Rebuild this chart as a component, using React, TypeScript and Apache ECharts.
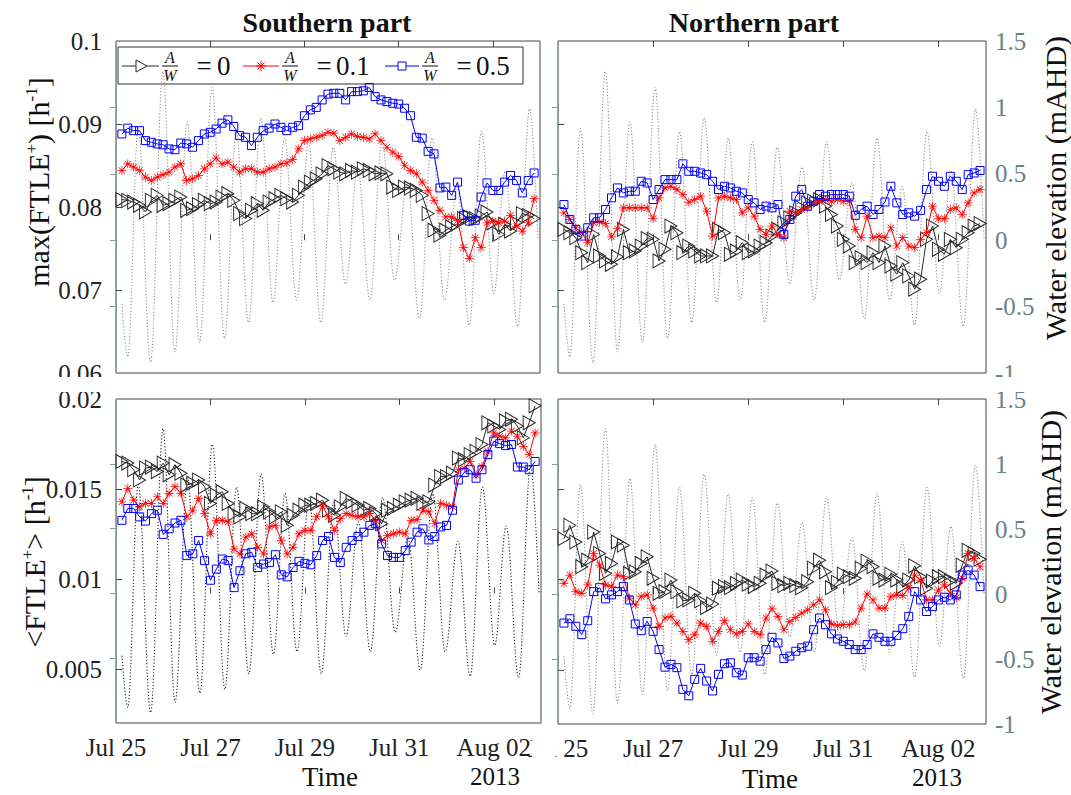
import React, { useEffect, useRef } from 'react';
import * as echarts from 'echarts';

const FONT = 'Liberation Serif';

// sample times, hours after 25 Jul 2013 00:00
const hours = [3, 6, 9, 12, 15, 18, 21, 24, 27, 30, 33, 36, 39, 42, 45, 48, 51, 54, 57, 60, 63, 66, 69, 72, 75, 78, 81, 84, 87, 90, 93, 96, 99, 102, 105, 108, 111, 114, 117, 120, 123, 126, 129, 132, 135, 138, 141, 144, 147, 150, 153, 156, 159, 162, 165, 168, 171, 174, 177, 180, 183, 186, 189, 192, 195, 198, 201, 204, 207, 210, 213];

const xTickHours = [0, 48, 96, 144, 192];
const xTickLabels = ['Jul 25', 'Jul 27', 'Jul 29', 'Jul 31', 'Aug 02'];
const maxFtleLabels = [0.06, 0.07, 0.08, 0.09, 0.1];
const meanFtleLabels = [0.005, 0.01, 0.015, 0.02];
const elevationLabels = [-1, -0.5, 0, 0.5, 1, 1.5];

// water elevation (mAHD): turning points of the tide
const tideHours = [3, 6.0, 11.3, 17.6, 23.9, 30.0, 36.3, 42.6, 49.0, 55.3, 61.3, 67.5, 73.8, 80.0, 85.9, 92.0, 98.1, 104.3, 110.7, 116.9, 123.2, 129.3, 135.5, 141.9, 148.4, 154.6, 161.0, 167.3, 173.8, 180.0, 186.2, 192.5, 198.3, 204.6, 210.7, 215];
const tideLevels = [-0.48, -0.88, 0.84, -0.92, 1.27, -0.84, 0.89, -0.77, 1.15, -0.74, 0.82, -0.62, 0.92, -0.47, 0.77, -0.45, 0.74, -0.62, 0.7, -0.33, 0.55, -0.45, 0.74, -0.3, 0.43, -0.59, 0.77, -0.45, 0.4, -0.64, 0.82, -0.4, 0.52, -0.65, 0.99, 0.0];

// max(FTLE+) southern part
const southMaxAW0 = [0.0809, 0.0808, 0.0806, 0.0802, 0.0794, 0.0808, 0.0814, 0.0802, 0.0804, 0.0808,
  0.0812, 0.0796, 0.0798, 0.0803, 0.0808, 0.0804, 0.0806, 0.0812, 0.0816, 0.0808,
  0.0792, 0.0786, 0.0796, 0.0804, 0.0796, 0.0806, 0.081, 0.0814, 0.081, 0.0806,
  0.0814, 0.0824, 0.083, 0.0834, 0.084, 0.085, 0.0846, 0.0842, 0.084, 0.0844,
  0.0842, 0.0846, 0.0844, 0.084, 0.0841, 0.084, 0.0824, 0.082, 0.0824, 0.0823,
  0.082, 0.0814, 0.0792, 0.0772, 0.0766, 0.0772, 0.0776, 0.078, 0.0786, 0.0788,
  0.0786, 0.0789, 0.0794, 0.0781, 0.0767, 0.0779, 0.0771, 0.0781, 0.0792, 0.079, 0.0786];
const southMaxAW01 = [0.0844, 0.0852, 0.0848, 0.0844, 0.0836, 0.0832, 0.0836, 0.0839, 0.0842, 0.0848,
  0.0852, 0.0832, 0.0834, 0.0838, 0.0846, 0.0852, 0.0859, 0.0852, 0.0854, 0.0848,
  0.0842, 0.0846, 0.0846, 0.0842, 0.0842, 0.0846, 0.0848, 0.0852, 0.0853, 0.0857,
  0.087, 0.088, 0.0882, 0.0884, 0.0886, 0.089, 0.0889, 0.088, 0.0884, 0.0888,
  0.0885, 0.0884, 0.0882, 0.0888, 0.088, 0.0872, 0.0866, 0.0861, 0.085, 0.0844,
  0.084, 0.083, 0.082, 0.0808, 0.0796, 0.0788, 0.0788, 0.0784, 0.0751, 0.0738,
  0.0763, 0.0751, 0.0781, 0.0783, 0.0781, 0.0783, 0.079, 0.0777, 0.0771, 0.0781, 0.081];
const southMaxAW05 = [0.0888, 0.0895, 0.0892, 0.0892, 0.088, 0.0878, 0.0876, 0.0875, 0.087, 0.0869,
  0.0877, 0.0876, 0.0872, 0.088, 0.0888, 0.089, 0.0894, 0.0901, 0.0905, 0.0897,
  0.0886, 0.0884, 0.0874, 0.0884, 0.0892, 0.0895, 0.09, 0.0896, 0.0892, 0.0896,
  0.0898, 0.091, 0.0917, 0.092, 0.0929, 0.0936, 0.0937, 0.0937, 0.0929, 0.0939,
  0.0939, 0.094, 0.0944, 0.0933, 0.0929, 0.0927, 0.0925, 0.0924, 0.0919, 0.091,
  0.0884, 0.0883, 0.0867, 0.0864, 0.0823, 0.0824, 0.0814, 0.083, 0.079, 0.0783,
  0.0784, 0.0812, 0.0829, 0.082, 0.082, 0.083, 0.0838, 0.0832, 0.0817, 0.0832, 0.0841];

// max(FTLE+) northern part
const northMaxAW0 = [0.0773, 0.0769, 0.0763, 0.0745, 0.0733, 0.0767, 0.0741, 0.0735, 0.0731, 0.074,
  0.0773, 0.0745, 0.0747, 0.0753, 0.0762, 0.0761, 0.0735, 0.0749, 0.0777, 0.0769,
  0.0745, 0.0753, 0.0747, 0.0741, 0.0741, 0.0741, 0.0773, 0.0769, 0.0743, 0.0747,
  0.0757, 0.0745, 0.0747, 0.0753, 0.0757, 0.0765, 0.0773, 0.0781, 0.0787, 0.0793,
  0.0799, 0.0805, 0.0807, 0.0809, 0.0801, 0.0791, 0.0777, 0.0761, 0.0753, 0.0733,
  0.0739, 0.0733, 0.0745, 0.0733, 0.0753, 0.0729, 0.0719, 0.0733, 0.0717, 0.0701,
  0.0713, 0.0761, 0.0777, 0.0749, 0.0743, 0.0761, 0.0751, 0.0761, 0.0769, 0.0777, 0.078];
const northMaxAW01 = [0.0793, 0.0785, 0.0775, 0.0769, 0.0757, 0.0781, 0.0782, 0.078, 0.0764, 0.0774,
  0.0799, 0.0799, 0.0799, 0.0799, 0.0799, 0.0786, 0.0811, 0.0823, 0.0825, 0.0821,
  0.0815, 0.0806, 0.0809, 0.0813, 0.0795, 0.0765, 0.0811, 0.0813, 0.0811, 0.0809,
  0.0793, 0.0799, 0.0789, 0.0773, 0.0767, 0.0777, 0.0767, 0.0763, 0.0795, 0.0793,
  0.0797, 0.0799, 0.0805, 0.0807, 0.0809, 0.0807, 0.0809, 0.0807, 0.0807, 0.0773,
  0.0763, 0.0789, 0.0763, 0.0765, 0.0763, 0.0775, 0.0753, 0.0763, 0.0753, 0.0751,
  0.0761, 0.0769, 0.0801, 0.0786, 0.0786, 0.0797, 0.0799, 0.0791, 0.0805, 0.0817, 0.0821];
const northMaxAW05 = [0.0803, 0.0785, 0.0773, 0.0765, 0.0775, 0.0787, 0.0787, 0.0797, 0.0811, 0.0823,
  0.0817, 0.0819, 0.0819, 0.0831, 0.0829, 0.0809, 0.0821, 0.0833, 0.0833, 0.0833,
  0.0852, 0.0843, 0.0843, 0.0841, 0.0839, 0.0831, 0.0821, 0.0825, 0.0823, 0.0819,
  0.0817, 0.0809, 0.0805, 0.0797, 0.0801, 0.0799, 0.0803, 0.0767, 0.0785, 0.0813,
  0.0821, 0.0801, 0.0807, 0.0815, 0.0813, 0.0815, 0.0815, 0.0815, 0.0813, 0.079,
  0.0797, 0.0801, 0.0791, 0.0797, 0.0806, 0.0825, 0.0805, 0.0791, 0.0793, 0.0789,
  0.0796, 0.0821, 0.0837, 0.0831, 0.0825, 0.0837, 0.0831, 0.0821, 0.0839, 0.0841, 0.0844];

// <FTLE+> southern part
const southMeanAW0 = [0.01653, 0.01644, 0.01607, 0.0155, 0.01616, 0.01622, 0.01597, 0.01644, 0.01579, 0.01635,
  0.01588, 0.01522, 0.01532, 0.0155, 0.01513, 0.0142, 0.01466, 0.01485, 0.0142, 0.01363,
  0.01345, 0.01392, 0.01363, 0.01363, 0.01401, 0.01373, 0.01345, 0.01373, 0.01298, 0.01354,
  0.01382, 0.0141, 0.0141, 0.0142, 0.01438, 0.01382, 0.01354, 0.01401, 0.01448, 0.01429,
  0.0141, 0.01382, 0.01392, 0.01363, 0.01307, 0.01382, 0.01392, 0.0141, 0.01429, 0.01438,
  0.01448, 0.0142, 0.01429, 0.01522, 0.01569, 0.01569, 0.01588, 0.01672, 0.01663, 0.01691,
  0.01709, 0.01747, 0.01868, 0.0185, 0.01831, 0.01878, 0.01887, 0.0185, 0.01784, 0.01868, 0.01962];
const southMeanAW01 = [0.01429, 0.01504, 0.01438, 0.01401, 0.0142, 0.0142, 0.01457, 0.0142, 0.01476, 0.01513,
  0.01476, 0.01345, 0.01382, 0.01448, 0.01363, 0.01251, 0.01326, 0.01326, 0.01317, 0.01167,
  0.01139, 0.01233, 0.01251, 0.01176, 0.01139, 0.01289, 0.01298, 0.01214, 0.01139, 0.01176,
  0.01251, 0.0127, 0.0127, 0.01345, 0.01405, 0.01345, 0.0127, 0.01335, 0.01363, 0.01354,
  0.01345, 0.01345, 0.01363, 0.01326, 0.01214, 0.01242, 0.01251, 0.01261, 0.01251, 0.01326,
  0.0133, 0.01382, 0.01373, 0.01307, 0.0142, 0.0141, 0.01401, 0.01607, 0.01616, 0.01653,
  0.01579, 0.01625, 0.01709, 0.01812, 0.01794, 0.01784, 0.01822, 0.01794, 0.01737, 0.01691, 0.01812];
const southMeanAW05 = [0.01326, 0.01392, 0.01392, 0.01345, 0.01322, 0.01363, 0.01382, 0.01248, 0.01279, 0.01311,
  0.01326, 0.0113, 0.0114, 0.01214, 0.01102, 0.00993, 0.01055, 0.01111, 0.01102, 0.00952,
  0.01046, 0.0114, 0.01148, 0.01064, 0.01083, 0.01092, 0.01135, 0.01023, 0.01012, 0.01064,
  0.01098, 0.01087, 0.01079, 0.0113, 0.01214, 0.01236, 0.0112, 0.01092, 0.01176, 0.01214,
  0.01236, 0.0126, 0.01298, 0.01307, 0.01195, 0.0113, 0.0112, 0.0112, 0.01158, 0.01205,
  0.0126, 0.01279, 0.01217, 0.01236, 0.01289, 0.01298, 0.01382, 0.0155, 0.01592, 0.01607,
  0.0156, 0.01607, 0.01691, 0.01766, 0.01752, 0.01741, 0.01747, 0.01622, 0.01622, 0.01607, 0.01653];

// <FTLE+> northern part
const northMeanAW0 = [0.01226, 0.013, 0.01208, 0.01071, 0.01107, 0.01263, 0.01144, 0.01034, 0.01089, 0.01208,
  0.0119, 0.01034, 0.01043, 0.01089, 0.01126, 0.01007, 0.00924, 0.00933, 0.00997, 0.00933,
  0.00882, 0.00887, 0.00924, 0.00882, 0.00845, 0.00864, 0.00952, 0.00961, 0.00955, 0.00979,
  0.00997, 0.00974, 0.00961, 0.00979, 0.01025, 0.01047, 0.00979, 0.00966, 0.00979, 0.00966,
  0.00955, 0.00988, 0.01062, 0.01107, 0.01043, 0.00955, 0.00985, 0.0103, 0.01016, 0.01007,
  0.01062, 0.01102, 0.01071, 0.01007, 0.00997, 0.01029, 0.00997, 0.00961, 0.00997, 0.01076,
  0.01016, 0.00952, 0.00992, 0.01016, 0.01016, 0.00992, 0.00979, 0.0108, 0.01162, 0.01144, 0.01113];
const northMeanAW01 = [0.00979, 0.01025, 0.00933, 0.00924, 0.0097, 0.01144, 0.0108, 0.0097, 0.00961, 0.01025,
  0.01016, 0.00897, 0.0086, 0.00906, 0.00915, 0.00842, 0.00741, 0.00787, 0.00796, 0.00759,
  0.00713, 0.00667, 0.00695, 0.00759, 0.00741, 0.00658, 0.00713, 0.00772, 0.00722, 0.00699,
  0.00713, 0.00754, 0.00713, 0.00695, 0.00787, 0.00838, 0.00796, 0.00722, 0.00768, 0.0079,
  0.00814, 0.00832, 0.0086, 0.00887, 0.00832, 0.00754, 0.00746, 0.0075, 0.0075, 0.00765,
  0.00842, 0.00919, 0.00887, 0.00842, 0.00842, 0.00906, 0.00915, 0.00911, 0.00952, 0.01025,
  0.00997, 0.00887, 0.00887, 0.00942, 0.0097, 0.00924, 0.009, 0.01007, 0.01144, 0.01117, 0.01071];
const northMeanAW05 = [0.00759, 0.00783, 0.00741, 0.00695, 0.00772, 0.00933, 0.00955, 0.00893, 0.00915, 0.00933,
  0.00961, 0.00887, 0.00754, 0.00717, 0.00768, 0.00713, 0.00612, 0.00515, 0.0053, 0.00512,
  0.00392, 0.00356, 0.00447, 0.00508, 0.00438, 0.00383, 0.00475, 0.00534, 0.00539, 0.00484,
  0.00471, 0.00567, 0.00567, 0.00548, 0.00612, 0.0068, 0.00649, 0.00563, 0.00576, 0.00603,
  0.00622, 0.00631, 0.00722, 0.00787, 0.0075, 0.00699, 0.00671, 0.00658, 0.0064, 0.00612,
  0.00612, 0.0064, 0.00699, 0.0068, 0.00658, 0.00658, 0.00691, 0.00728, 0.00796, 0.00933,
  0.00887, 0.00823, 0.00851, 0.00887, 0.00902, 0.00887, 0.00915, 0.01025, 0.01052, 0.01025, 0.00961];

const STAR = 'path://M0,9.2H20V10.8H0Z M9.2,0H10.8V20H9.2Z M3.47,2.33L17.67,16.53L16.53,17.67L2.33,3.47Z M16.53,2.33L17.67,3.47L3.47,17.67L2.33,16.53Z';
const BLACK = '#2a2a2a';
const RED = '#ff0000';
const BLUE = '#0000ff';
const RIGHT_COLOR = '#6a8282';
const BOX = '#444';

const fmt = (v: number) => String(parseFloat(Number(v).toFixed(4)));

const panels = [
  { grid: { left: 116, top: 41, width: 424, height: 332 }, series: [southMaxAW0, southMaxAW01, southMaxAW05], min: 0.06, max: 0.1, labels: maxFtleLabels, showLeft: true, showRight: false, showX: false, tide: '#8f8f8f' },
  { grid: { left: 558, top: 41, width: 428, height: 332 }, series: [northMaxAW0, northMaxAW01, northMaxAW05], min: 0.06, max: 0.1, labels: maxFtleLabels, showLeft: false, showRight: true, showX: false, tide: '#8f8f8f' },
  { grid: { left: 116, top: 399, width: 425, height: 324 }, series: [southMeanAW0, southMeanAW01, southMeanAW05], min: 0.002, max: 0.02, labels: meanFtleLabels, showLeft: true, showRight: false, showX: true, tide: '#222' },
  { grid: { left: 558, top: 399, width: 428, height: 325 }, series: [northMeanAW0, northMeanAW01, northMeanAW05], min: 0.002, max: 0.02, labels: meanFtleLabels, showLeft: false, showRight: true, showX: true, tide: '#8f8f8f' },
];

function buildOption() {
  const grid: any[] = [];
  const xAxis: any[] = [];
  const yAxis: any[] = [];
  const series: any[] = [];
  const innerTicks = xTickHours.filter((h) => h > 0);

  panels.forEach((p, g) => {
    grid.push({ ...p.grid, show: true, borderColor: BOX, borderWidth: 1, backgroundColor: 'transparent' });
    const xBase = {
      gridIndex: g, type: 'value', min: 0, max: 216,
      axisLine: { show: false }, splitLine: { show: false },
      axisTick: { inside: true, length: 6, customValues: innerTicks, lineStyle: { color: BOX } },
    };
    xAxis.push({
      ...xBase, position: 'bottom',
      axisLabel: {
        show: p.showX, customValues: xTickHours, margin: 12, fontSize: 25, fontFamily: FONT, color: '#222',
        formatter: (v: number) => { const i = xTickHours.indexOf(v); return i >= 0 ? xTickLabels[i] : ''; },
      },
    });
    xAxis.push({ ...xBase, position: 'top', axisLabel: { show: false } });
    const leftTicks = p.labels.filter((v) => v > p.min + 1e-9 && v < p.max - 1e-9);
    yAxis.push({
      gridIndex: g, type: 'value', position: 'left', min: p.min, max: p.max,
      axisLine: { show: false }, splitLine: { show: false },
      axisTick: { inside: true, length: 6, customValues: leftTicks, lineStyle: { color: BOX } },
      axisLabel: { show: p.showLeft, customValues: p.labels, margin: 14, fontSize: 25, fontFamily: FONT, color: '#222', formatter: fmt, showMinLabel: true, showMaxLabel: true },
    });
    yAxis.push({
      gridIndex: g, type: 'value', position: 'right', min: -1, max: 1.5, interval: 0.5,
      axisLine: { show: true, lineStyle: { color: '#8a9a9a', width: 1 } }, splitLine: { show: false },
      axisTick: { inside: true, length: 6, customValues: [-0.5, 0, 0.5, 1], lineStyle: { color: '#8a9a9a' } },
      axisLabel: { show: p.showRight, customValues: elevationLabels, margin: 9, fontSize: 25, fontFamily: FONT, color: RIGHT_COLOR, formatter: fmt, showMinLabel: true, showMaxLabel: true },
    });

    series.push({
      type: 'line', xAxisIndex: 2 * g, yAxisIndex: 2 * g + 1, silent: true,
      data: tideHours.map((h, i) => [h, tideLevels[i]]),
      smooth: 0.36, smoothMonotone: 'x', showSymbol: false, z: 1,
      lineStyle: { color: p.tide, width: 1.1, type: [1.2, 2] },
    });
    const [a0, a01, a05] = p.series;
    series.push({
      type: 'line', xAxisIndex: 2 * g, yAxisIndex: 2 * g, z: 3,
      data: hours.map((h, i) => [h, a0[i]]),
      symbol: 'triangle', symbolRotate: -90, symbolSize: [14, 12], showSymbol: true,
      itemStyle: { color: 'rgba(0,0,0,0)', borderColor: BLACK, borderWidth: 1 },
      lineStyle: { color: BLACK, width: 1 },
    });
    series.push({
      type: 'line', xAxisIndex: 2 * g, yAxisIndex: 2 * g, z: 4,
      data: hours.map((h, i) => [h, a01[i]]),
      symbol: STAR, symbolSize: 9, showSymbol: true,
      itemStyle: { color: RED },
      lineStyle: { color: RED, width: 1 },
    });
    series.push({
      type: 'line', xAxisIndex: 2 * g, yAxisIndex: 2 * g, z: 5,
      data: hours.map((h, i) => [h, a05[i]]),
      symbol: 'rect', symbolSize: 8, showSymbol: true,
      itemStyle: { color: 'rgba(0,0,0,0)', borderColor: BLUE, borderWidth: 1 },
      lineStyle: { color: BLUE, width: 1 },
    });
  });

  const txt = (x: number, y: number, text: string, fontSize: number, extra: any = {}) => ({
    type: 'text', x, y, silent: true, z: 50,
    style: { text, fontSize, fontFamily: FONT, fill: '#111', align: 'center', verticalAlign: 'middle', ...extra },
  });
  const supRich = { sup: { fontSize: 17, fontFamily: FONT, verticalAlign: 'top', fill: '#111' } };
  const rot = (el: any) => ({ ...el, rotation: Math.PI / 2 });

  const legendY = 66;
  const frac = (cx: number) => [
    txt(cx, legendY - 9, 'A', 16, { fontStyle: 'italic' }),
    { type: 'line', silent: true, shape: { x1: cx - 8, y1: legendY, x2: cx + 8, y2: legendY }, style: { stroke: '#111', lineWidth: 1 } },
    txt(cx, legendY + 9, 'W', 16, { fontStyle: 'italic' }),
  ];
  const starLines = (cx: number, cy: number, r: number) => {
    const d = r * 0.707;
    return [[-r, 0, r, 0], [0, -r, 0, r], [-d, -d, d, d], [-d, d, d, -d]].map((s) => ({
      type: 'line', silent: true, shape: { x1: cx + s[0], y1: cy + s[1], x2: cx + s[2], y2: cy + s[3] }, style: { stroke: RED, lineWidth: 1 },
    }));
  };

  const legend = {
    type: 'group', z: 100, silent: true,
    children: [
      { type: 'rect', shape: { x: 118, y: 47, width: 405, height: 37 }, style: { fill: '#fff', stroke: '#333', lineWidth: 1 } },
      { type: 'line', shape: { x1: 122, y1: legendY, x2: 159, y2: legendY }, style: { stroke: BLACK, lineWidth: 1 } },
      { type: 'polygon', shape: { points: [[136, 60], [147, 66], [136, 72]] }, style: { fill: '#fff', stroke: BLACK, lineWidth: 1 } },
      ...frac(170),
      txt(204, legendY, '=', 27),
      txt(217, legendY, '0', 27, { align: 'left' }),
      { type: 'line', shape: { x1: 243, y1: legendY, x2: 279, y2: legendY }, style: { stroke: RED, lineWidth: 1 } },
      ...starLines(261, legendY, 5),
      ...frac(290),
      txt(324, legendY, '=', 27),
      txt(336, legendY, '0.1', 27, { align: 'left' }),
      { type: 'line', shape: { x1: 385, y1: legendY, x2: 419, y2: legendY }, style: { stroke: BLUE, lineWidth: 1 } },
      { type: 'rect', shape: { x: 398, y: legendY - 4, width: 8, height: 8 }, style: { fill: '#fff', stroke: BLUE, lineWidth: 1 } },
      ...frac(430),
      txt(464, legendY, '=', 27),
      txt(476, legendY, '0.5', 27, { align: 'left' }),
    ],
  };

  const graphic: any[] = [
    { type: 'rect', silent: true, z: 90, shape: { x: 0, y: 377, width: 1071, height: 15 }, style: { fill: '#fff' } },
    { type: 'rect', silent: true, z: 90, shape: { x: 532, y: 728, width: 23, height: 36 }, style: { fill: '#fff' } },
    txt(327, 22, 'Southern part', 28, { fontWeight: 'bold' }),
    txt(754, 22, 'Northern part', 28, { fontWeight: 'bold' }),
    rot(txt(38, 182, 'max(FTLE{sup|+}) [h{sup|-1}]', 30, { rich: supRich })),
    rot(txt(34, 562, '<FTLE{sup|+}> [h{sup|-1}]', 30, { rich: supRich })),
    rot(txt(1055, 188, 'Water elevation (mAHD)', 30)),
    rot(txt(1050, 562, 'Water elevation (mAHD)', 30)),
    txt(330, 777, 'Time', 27),
    txt(495, 776, '2013', 25),
    txt(770, 779, 'Time', 27),
    txt(937, 777, '2013', 25),
    legend,
  ];

  return { animation: false, backgroundColor: '#fff', grid, xAxis, yAxis, series, graphic };
}

export default function App() {
  const ref = useRef<HTMLDivElement>(null);
  useEffect(() => {
    if (!ref.current) return;
    const chart = echarts.init(ref.current, undefined, { renderer: 'svg' });
    chart.setOption(buildOption() as any);
    return () => chart.dispose();
  }, []);
  return <div ref={ref} style={{ position: 'fixed', left: 0, top: 0, width: 1071, height: 795, background: '#fff' }} />;
}
